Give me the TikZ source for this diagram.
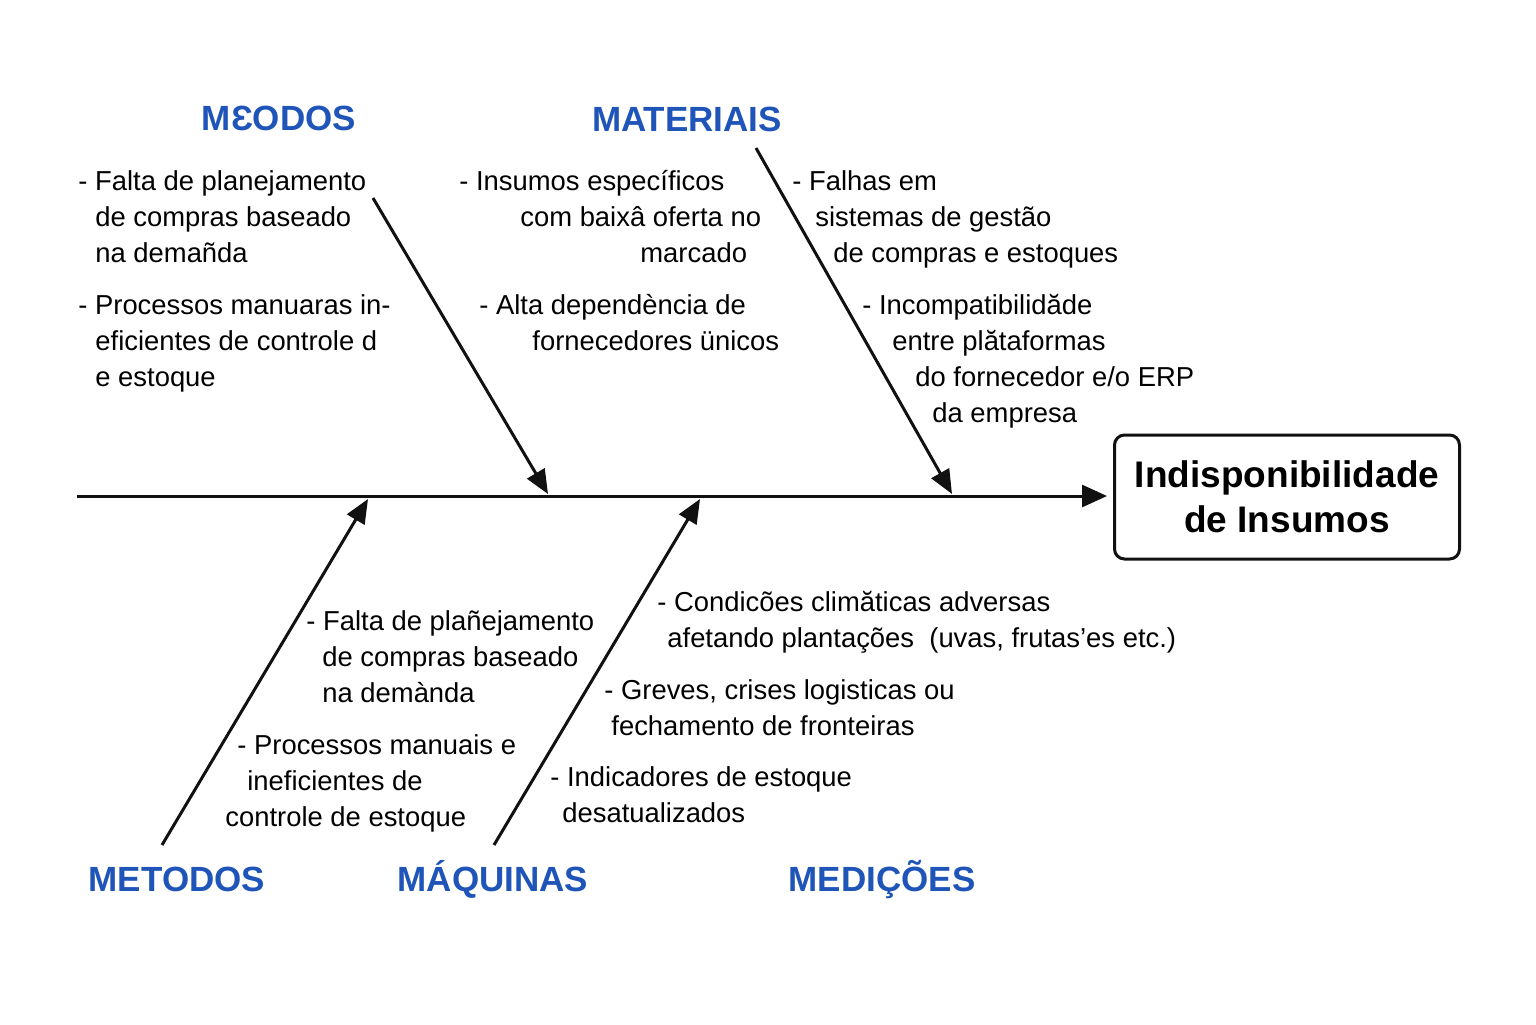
\documentclass[tikz,border=0pt]{standalone}
\usepackage{fontspec}
\setmainfont{Liberation Sans}
\usepackage{xcolor}
\usepackage{tikz}
\usetikzlibrary{
  positioning,
  arrows.meta
}
\definecolor{catblue}{RGB}{31,84,184}
\definecolor{bonecolor}{RGB}{17,17,17}
\tikzset{
  catlabel/.style={
    text=catblue, inner sep=0pt, anchor=base,
    font=\fontsize{17.5}{20}\selectfont\bfseries
  },
  causetext/.style={
    inner sep=0pt, anchor=north west, align=left,
    font=\fontsize{13.7}{18}\selectfont
  },
  effectbox/.style={
    draw=bonecolor, line width=1.5pt, rounded corners=5pt,
    minimum width=172.5pt, minimum height=62pt,
    font=\fontsize{18.5}{22.5}\selectfont\bfseries, align=center
  },
  spine/.style={
    -{Triangle[length=12.5pt,width=11pt]}, line width=1.5pt, draw=bonecolor
  },
  bone/.style={
    -{Triangle[length=12pt,width=10pt]}, line width=1.5pt, draw=bonecolor
  }
}

\begin{document}
\begin{tikzpicture}[x=0.5pt, y=-0.5pt]
    \useasboundingbox (0,0) rectangle (1536,1024);

    % efeito
    \node[effectbox] (efeito) at (1287,497) {Indisponibilidade\\de Insumos};

    % espinha
    \coordinate (cauda) at (77,496);
    \draw[spine, shorten >=3pt] (cauda) -- (cauda -| efeito.west);

    % categorias
    \node[catlabel] (cat1) at (279,130) {MƐODOS};
    \node[catlabel] (cat2) at (687,131) {MATERIAIS};
    \node[catlabel] (cat3) at (177,891) {METODOS};
    \node[catlabel] (cat4) at (493,891) {MÁQUINAS};
    \node[catlabel] (cat5) at (882,891) {MEDIÇÕES};

    % espinhas laterais
    \coordinate (b1a) at (373,198);  \coordinate (b1b) at (548,494);
    \coordinate (b2a) at (756,148);  \coordinate (b2b) at (952,494);
    \coordinate (b3a) at (162,845);  \coordinate (b3b) at (368,499);
    \coordinate (b4a) at (494,845);  \coordinate (b4b) at (700,499);

    \draw[bone] (b1a) -- (b1b);
    \draw[bone] (b2a) -- (b2b);
    \draw[bone] (b3a) -- (b3b);
    \draw[bone] (b4a) -- (b4b);

    % causas - acima
    \node[causetext] (c1) at (78,170) {
      - Falta de planejamento\\
      \hspace*{8.5pt}de compras baseado\\
      \hspace*{8.5pt}na demañda
    };
    \node[causetext] (c2) at (78,294) {
      - Processos manuaras in-\\
      \hspace*{8.5pt}eficientes de controle d\\
      \hspace*{8.5pt}e estoque
    };
    \node[causetext] (c3) at (459,170) {
      - Insumos específicos\\
      \hspace*{30.5pt}com baixâ oferta no\\
      \hspace*{90.5pt}marcado
    };
    \node[causetext] (c4) at (479,294) {
      - Alta dependència de\\
      \hspace*{26.5pt}fornecedores ünicos
    };
    \node[causetext] (c5) at (792,170) {
      - Falhas em\\
      \hspace*{11.5pt}sistemas de gestão\\
      \hspace*{20.5pt}de compras e estoques
    };
    \node[causetext] (c6) at (862,294) {
      - Incompatibilidăde\\
      \hspace*{15pt}entre plătaformas\\
      \hspace*{26.5pt}do fornecedor e/o ERP\\
      \hspace*{35pt}da empresa
    };

    % causas - abaixo
    \node[causetext] (c7) at (306,610) {
      - Falta de plañejamento\\
      \hspace*{8pt}de compras baseado\\
      \hspace*{8pt}na demànda
    };
    \node[causetext] (c8) at (225,734) {
      \hspace*{6pt}- Processos manuais e\\
      \hspace*{11pt}ineficientes de\\
      controle de estoque
    };
    \node[causetext] (c9) at (657,591) {
      - Condicões climăticas adversas\\
      \hspace*{5pt}afetando plantações\ \ (uvas, frutas'es etc.)
    };
    \node[causetext] (c10) at (604,679) {
      - Greves, crises logisticas ou\\
      \hspace*{3.5pt}fechamento de fronteiras
    };
    \node[causetext] (c11) at (550,766) {
      - Indicadores de estoque\\
      \hspace*{6pt}desatualizados
    };

\end{tikzpicture}
\end{document}
